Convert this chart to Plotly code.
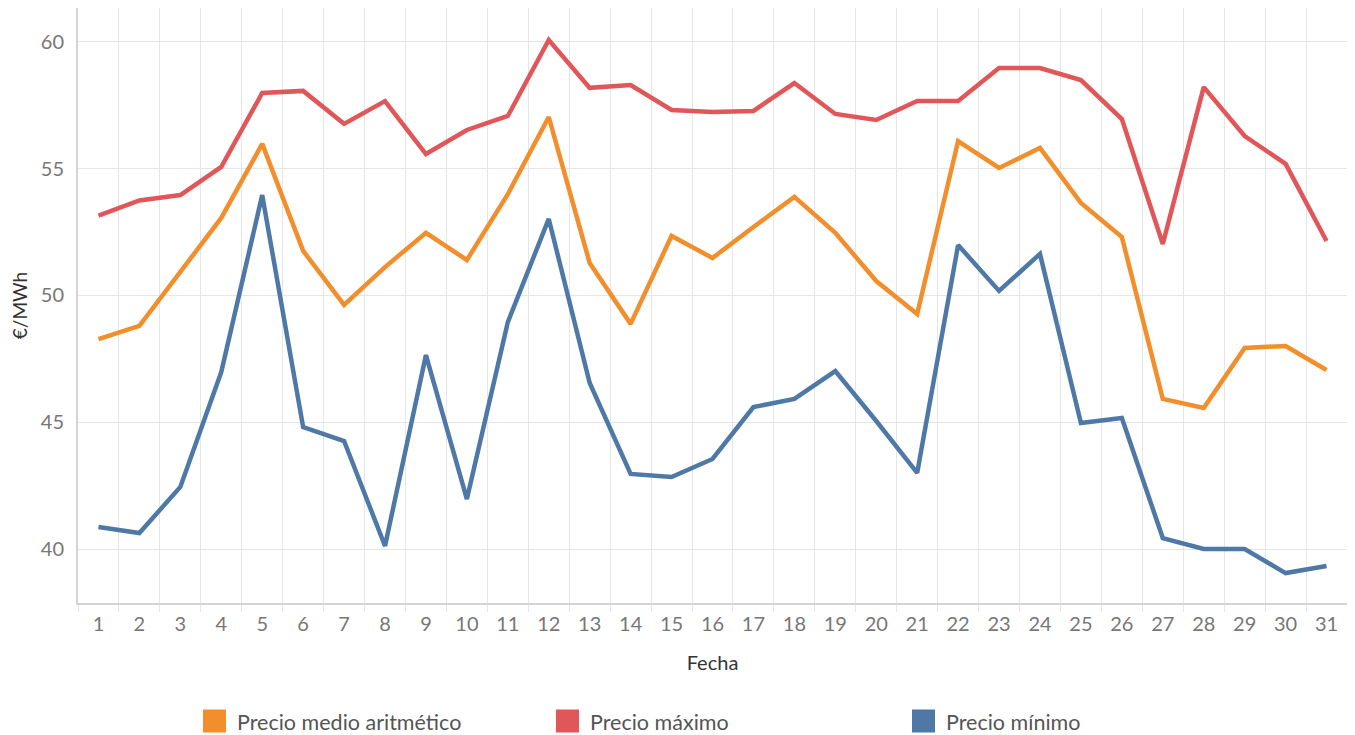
import plotly.graph_objects as go

dias = list(range(1, 32))
tick_labels = [str(d) for d in dias]

precio_medio = [48.28, 48.80, 50.93, 53.06, 55.98, 51.76, 49.63, 51.12, 52.47, 51.40,
                54.00, 57.04, 51.28, 48.88, 52.35, 51.48, 52.70, 53.89, 52.47, 50.57,
                49.27, 56.09, 55.03, 55.82, 53.65, 52.31, 45.92, 45.56, 47.93, 48.01, 47.06]
precio_maximo = [53.15, 53.75, 53.96, 55.07, 57.99, 58.07, 56.77, 57.67, 55.58, 56.53,
                 57.08, 60.08, 58.19, 58.30, 57.32, 57.24, 57.28, 58.38, 57.16, 56.92,
                 57.67, 57.67, 58.97, 58.97, 58.50, 56.96, 52.03, 58.22, 56.29, 55.19, 52.15]
precio_minimo = [40.87, 40.63, 42.45, 46.98, 53.96, 44.81, 44.26, 40.12, 47.65, 41.97,
                 48.95, 53.02, 46.55, 42.96, 42.84, 43.55, 45.60, 45.92, 47.02, 45.05,
                 43.00, 51.99, 50.18, 51.64, 44.97, 45.17, 40.43, 40.00, 40.00, 39.05, 39.33]

series_names = ["Precio medio aritmético", "Precio máximo", "Precio mínimo"]
series_values = [precio_medio, precio_maximo, precio_minimo]
series_colors = ["#F28E2B", "#E15759", "#4E79A7"]

FONT = "Lato"
# page has an 8px body margin; figure is sized so that it fits the 1355x735 window
W, H = 1347, 727
ML, MR, MT, MB = 70, 8, 0, 132
PW = W - ML - MR
PH = H - MT - MB

# legend geometry (figure pixels)
legend_left_px = [195, 548, 904]
legend_y_px = 713
sq = 23

fig = go.Figure()
for name, vals, color in zip(series_names, series_values, series_colors):
    fig.add_trace(go.Scatter(x=dias, y=vals, mode="lines", name=name,
                             line=dict(color=color, width=4.5), showlegend=False))

shapes = []
annotations = []
for name, color, px in zip(series_names, series_colors, legend_left_px):
    x0 = (px - ML) / PW
    x1 = (px + sq - ML) / PW
    y0 = (H - MB - (legend_y_px + sq / 2)) / PH
    y1 = (H - MB - (legend_y_px - sq / 2)) / PH
    shapes.append(dict(type="rect", xref="paper", yref="paper", x0=x0, x1=x1,
                       y0=y0, y1=y1, fillcolor=color, line=dict(width=0)))
    annotations.append(dict(text=name, xref="paper", yref="paper",
                            x=(px + sq + 9 - ML) / PW, xanchor="left",
                            y=(H - MB - legend_y_px - 1) / PH, yanchor="middle",
                            showarrow=False,
                            font=dict(family=FONT, size=21.5, color="#555555")))

grid = "#e6e6e6"
fig.update_layout(
    width=W, height=H,
    margin=dict(l=ML, r=MR, t=MT, b=MB, autoexpand=False),
    plot_bgcolor="white", paper_bgcolor="white",
    font=dict(family=FONT, color="#666666"),
    showlegend=False,
    shapes=shapes, annotations=annotations,
    xaxis=dict(
        range=[0.5, 31.5], tickvals=dias, ticktext=tick_labels,
        showgrid=False, zeroline=False, automargin=False,
        showline=True, linecolor="#d4d4d4", linewidth=2,
        tickfont=dict(size=20, color="#777777"), ticks="", ticklabelstandoff=2,
        minor=dict(tickvals=[d + 0.5 for d in range(0, 31)], showgrid=True,
                   gridcolor=grid, gridwidth=1, ticks="outside", ticklen=7,
                   tickcolor=grid),
        title=dict(text="Fecha", font=dict(size=20, color="#333333"), standoff=22),
    ),
    yaxis=dict(
        range=[37.87, 61.34], tickvals=[40, 45, 50, 55, 60],
        showgrid=True, gridcolor=grid, gridwidth=1, zeroline=False, automargin=False,
        showline=True, linecolor="#d4d4d4", linewidth=2,
        tickfont=dict(size=20, color="#777777"), ticklabelstandoff=8,
        title=dict(text="€/MWh", font=dict(size=19, color="#333333"), standoff=12),
    ),
)

fig.write_html("out.html")
